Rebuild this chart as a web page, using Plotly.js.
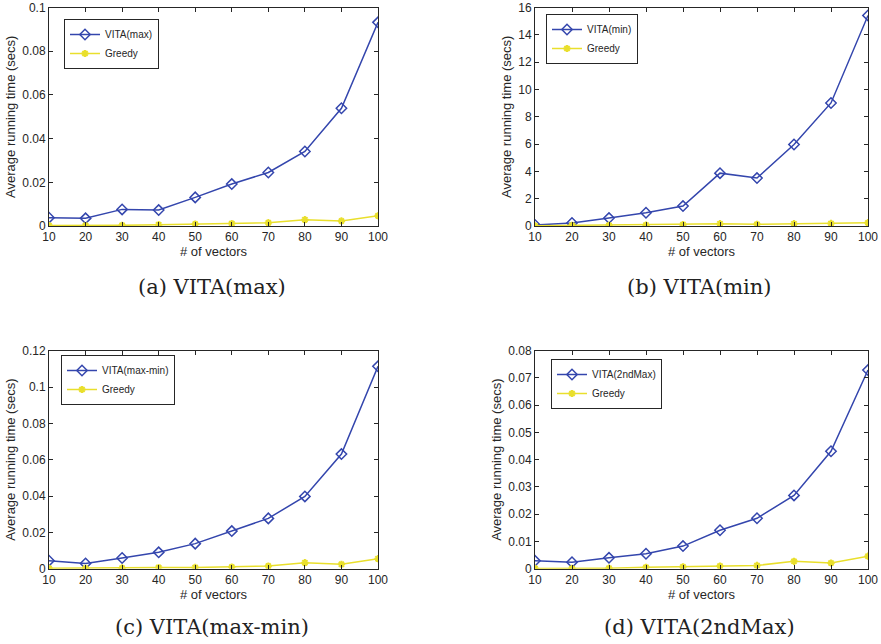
<!DOCTYPE html>
<html>
<head>
<meta charset="utf-8">
<script src="https://cdn.plot.ly/plotly-3.0.1.min.js"></script>
<style>html,body{margin:0;padding:0;background:#fff;}#chart{width:881px;height:644px;}</style>
</head>
<body>
<div id="chart"></div>
<script>
// ---- data ----
const vectors = [10, 20, 30, 40, 50, 60, 70, 80, 90, 100];

const vitaMax    = [0.0038, 0.0035, 0.0076, 0.0073, 0.0131, 0.0192, 0.0245, 0.0341, 0.0539, 0.0932];
const greedyA    = [0.0002, 0.0002, 0.0003, 0.0006, 0.0009, 0.0011, 0.0015, 0.0029, 0.0023, 0.0047];

const vitaMin    = [0.08, 0.22, 0.58, 0.97, 1.46, 3.87, 3.51, 5.97, 9.01, 15.42];
const greedyB    = [0.02, 0.05, 0.05, 0.07, 0.10, 0.17, 0.12, 0.17, 0.19, 0.24];

const vitaMaxMin = [0.0044, 0.0029, 0.0059, 0.0090, 0.0138, 0.0207, 0.0277, 0.0398, 0.0631, 0.1114];
const greedyC    = [0.0002, 0.0002, 0.0004, 0.0006, 0.0007, 0.0009, 0.0015, 0.0033, 0.0024, 0.0055];

const vita2ndMax = [0.0029, 0.0024, 0.0040, 0.0055, 0.0083, 0.0141, 0.0185, 0.0269, 0.0431, 0.0729];
const greedyD    = [0.0001, 0.0001, 0.0002, 0.0005, 0.0007, 0.0010, 0.0012, 0.0027, 0.0021, 0.0046];

const vitaNames  = ['VITA(max)', 'VITA(min)', 'VITA(max-min)', 'VITA(2ndMax)'];
const captions   = ['(a) VITA(max)', '(b) VITA(min)', '(c) VITA(max-min)', '(d) VITA(2ndMax)'];
const yRanges    = [[0, 0.1], [0, 16], [0, 0.12], [0, 0.08]];
const yDtick     = [0.02, 2, 0.02, 0.01];
const xTitle     = '# of vectors';
const yTitle     = 'Average running time (secs)';

// ---- styling ----
const BLUE = '#3446ad';
const YELLOW = '#e9df2c';
const TXT = '#262626';
const W = 881, H = 644;
const vitaSeries = [vitaMax, vitaMin, vitaMaxMin, vita2ndMax];
const greedySeries = [greedyA, greedyB, greedyC, greedyD];

// plot-area pixel boxes [x0, x1, yTop, yBottom]
const boxes = [
  [49, 378, 7.5, 226],
  [535, 868, 7.5, 226],
  [49, 378, 350.7, 568.7],
  [535, 868, 350.7, 568.7]
];
const legendPos = [[64, 19], [546, 14], [61, 355], [551, 359]];
const captionY = [287, 287, 627, 627];

const traces = [];
const layout = {
  width: W, height: H,
  margin: {l: 0, r: 0, t: 0, b: 0},
  paper_bgcolor: '#fff', plot_bgcolor: '#fff',
  font: {family: 'Liberation Sans, Arial, sans-serif', size: 12, color: TXT},
  showlegend: true,
  annotations: []
};

for (let i = 0; i < 4; i++) {
  const n = i + 1;
  const xa = n === 1 ? 'x' : 'x' + n;
  const ya = n === 1 ? 'y' : 'y' + n;
  const lg = n === 1 ? 'legend' : 'legend' + n;
  traces.push({
    x: vectors, y: vitaSeries[i], xaxis: xa, yaxis: ya, legend: lg,
    name: vitaNames[i], mode: 'lines+markers', type: 'scatter',
    line: {color: BLUE, width: 1.5},
    marker: {symbol: 'diamond-open', size: 8, color: BLUE, line: {width: 1.5, color: BLUE}}
  });
  traces.push({
    x: vectors, y: greedySeries[i], xaxis: xa, yaxis: ya, legend: lg,
    name: 'Greedy', mode: 'lines+markers', type: 'scatter',
    line: {color: YELLOW, width: 1.5},
    marker: {symbol: 'asterisk-open', size: 6, color: YELLOW, line: {width: 2, color: YELLOW}}
  });
  const b = boxes[i];
  const axCommon = {
    showline: true, mirror: 'ticks', linecolor: TXT, linewidth: 1,
    ticks: 'inside', ticklen: 4, tickcolor: TXT,
    showgrid: false, zeroline: false, tickfont: {size: 12, color: TXT}
  };
  layout['xaxis' + (n === 1 ? '' : n)] = Object.assign({}, axCommon, {
    domain: [b[0] / W, b[1] / W], anchor: ya, range: [10, 100],
    tickvals: vectors, ticktext: vectors.map(String),
    title: {text: xTitle, font: {size: 13, color: TXT}, standoff: 1}
  });
  layout['yaxis' + (n === 1 ? '' : n)] = Object.assign({}, axCommon, {
    domain: [1 - b[3] / H, 1 - b[2] / H], anchor: xa, range: yRanges[i],
    dtick: yDtick[i], tick0: 0,
    title: {text: yTitle, font: {size: 13, color: TXT}, standoff: 3}
  });
  const lp = legendPos[i];
  layout[lg] = {
    x: lp[0] / W, y: 1 - lp[1] / H, xanchor: 'left', yanchor: 'top',
    bgcolor: '#fff', bordercolor: TXT, borderwidth: 1,
    font: {size: 10, color: TXT}, itemwidth: 30, tracegroupgap: 0
  };
  layout.annotations.push({
    text: captions[i], xref: 'paper', yref: 'paper', showarrow: false,
    x: ((b[0] + b[1]) / 2 - 2) / W, y: 1 - captionY[i] / H,
    xanchor: 'center', yanchor: 'middle',
    font: {family: 'DejaVu Serif, Liberation Serif, serif', size: 21, color: '#222'}
  });
}

Plotly.newPlot('chart', traces, layout, {displayModeBar: false, staticPlot: true});
</script>
</body>
</html>
